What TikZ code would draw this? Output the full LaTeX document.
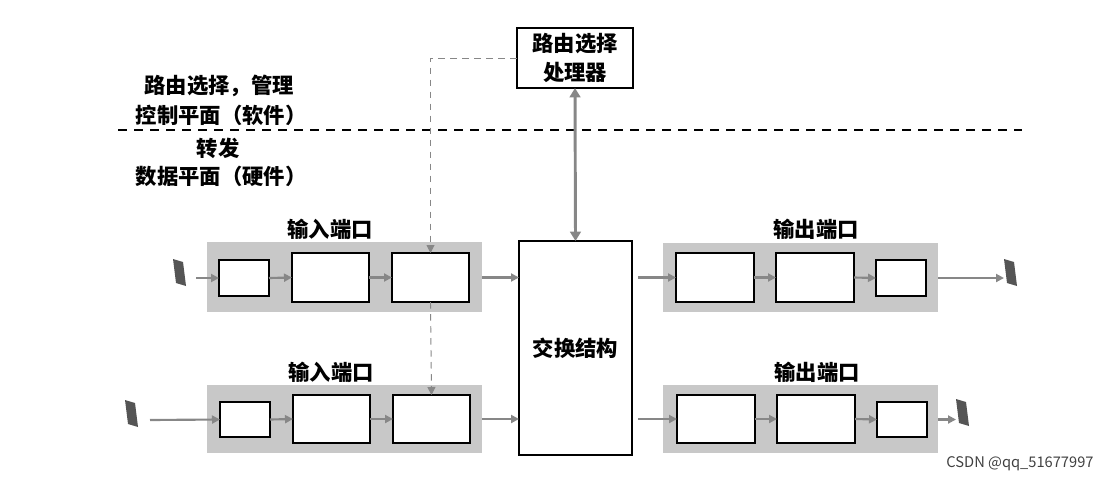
\documentclass[tikz,border=0pt]{standalone}
\usepackage{fontspec}
\newfontfamily\cjk{Noto Sans CJK SC}
\usetikzlibrary{arrows.meta}
\definecolor{bandgray}{RGB}{200,200,200}
\definecolor{arrowgray}{RGB}{135,135,135}
\definecolor{pktgray}{RGB}{85,85,85}
\newcommand\mybox[6]{\node[#6, minimum width={(#4-#2)*0.75pt}, minimum height={(#5-#3)*0.75pt}] (#1) at ({(#2+#4)/2},{(#3+#5)/2}) {};}
\newcommand\mypkt[3]{% name, x, y (top-left)
  \fill[pktgray] (#2,#3) -- ++(10,3) -- ++(3,24) -- ++(-10,-3) -- cycle;
  \coordinate (#1L) at (#2,{#3+13});
  \coordinate (#1R) at ({#2+13},{#3+14});}
\begin{document}
\begin{tikzpicture}[x=0.75pt,y=-0.75pt,
  font=\cjk\bfseries\fontsize{16}{20}\selectfont,
  box/.style={draw=black, line width=1.1pt, fill=white, inner sep=0pt, outer sep=0pt},
  band/.style={fill=bandgray, draw=none, inner sep=0pt, outer sep=0pt},
  flow/.style={draw=arrowgray, line width=1.6pt, -{Triangle[length=6pt,width=6pt]}},
  ctrl/.style={draw=arrowgray, line width=0.7pt, dash pattern=on 5pt off 4pt, -{Triangle[length=6pt,width=6pt]}},
  lbl/.style={inner sep=0pt}]
\useasboundingbox (0,0) rectangle (1120,482);
% plane separator
\coordinate (sepL) at (118,130);
\coordinate (sepR) at (1022,130);
\draw[line width=1pt, dash pattern=on 7pt off 5pt] (sepL) -- (sepR);
\node[lbl] (t1) at (219,86) {路由选择，管理};
\node[lbl] (t2) at (221,115) {控制平面（软件）};
\node[lbl] (t3) at (218,148) {转发};
\node[lbl] (t4) at (221,176) {数据平面（硬件）};
% routing processor
\node[box, align=center, minimum width={116*0.75pt}, minimum height={60*0.75pt}, inner sep=0pt, font=\cjk\bfseries\fontsize{16}{22}\selectfont] (proc) at (575,58) {路由选择\\处理器};
% switch fabric
\mybox{sw}{519}{241}{632}{455}{box}
\node[lbl] (swl) at (sw.center) {交换结构};
% input bands
\mybox{inA}{207}{242}{482}{312}{band}
\mybox{inB}{207}{385}{482}{453}{band}
\mybox{outA}{663}{243}{938}{312}{band}
\mybox{outB}{663}{385}{938}{453}{band}
\node[lbl] (inAl) at (330,229) {输入端口};
\node[lbl] (inBl) at (331,372) {输入端口};
\node[lbl] (outAl) at (816,229) {输出端口};
\node[lbl] (outBl) at (817,372) {输出端口};
% input boxes
\mybox{a1}{219}{260}{269}{296}{box}
\mybox{a2}{292}{253}{369}{302}{box}
\mybox{a3}{392}{253}{469}{302}{box}
\mybox{c1}{220}{402}{270}{437}{box}
\mybox{c2}{293}{395}{370}{443}{box}
\mybox{c3}{393}{395}{470}{443}{box}
% output boxes
\mybox{b1}{676}{253}{754}{302}{box}
\mybox{b2}{776}{253}{854}{302}{box}
\mybox{b3}{876}{260}{926}{296}{box}
\mybox{d1}{677}{395}{755}{443}{box}
\mybox{d2}{777}{395}{855}{443}{box}
\mybox{d3}{877}{402}{927}{437}{box}
% packets
\mypkt{pA}{173}{259}
\mypkt{pB}{125}{400}
\mypkt{pC}{1004}{259}
\mypkt{pD}{956}{399}
% input flows
\coordinate (pAs) at (196,278);
\coordinate (pBs) at (150,420);
\draw[flow] (pAs) -- (a1.west);
\draw[flow] (a1.east) -- (a2.west);
\draw[flow] (a2.east) -- (a3.west);
\draw[flow] (a3.east -| inA.east) -- (a3.east -| sw.west);
\draw[flow] (pBs) -- (c1.west);
\draw[flow] (c1.east) -- (c2.west);
\draw[flow] (c2.east) -- (c3.west);
\draw[flow] (c3.east -| inB.east) -- (c3.east -| sw.west);
% output flows
\draw[flow] ([xshift=4.5pt]b1.west -| sw.east) -- (b1.west);
\draw[flow] (b1.east) -- (b2.west);
\draw[flow] (b2.east) -- (b3.west);
\draw[flow] (b3.east -| outA.east) -- (b3.east -| pCL);
\draw[flow] ([xshift=4.5pt]d1.west -| sw.east) -- (d1.west);
\draw[flow] (d1.east) -- (d2.west);
\draw[flow] (d2.east) -- (d3.west);
\draw[flow] (d3.east -| outB.east) -- (d3.east -| pDL);
% processor <-> switch
\draw[draw=arrowgray, line width=2.2pt, {Triangle[length=7pt,width=8pt]}-{Triangle[length=7pt,width=8pt]}] (proc.south) -- (sw.north);
% control dashed
\draw[ctrl] (proc.west) -| (a3.north);
\draw[ctrl] (a3.south) -- (c3.north);
% watermark
\node[lbl, font=\cjk\fontsize{11}{13}\selectfont, text=black!75] (wm) at (1020,464) {CSDN @qq\_51677997};
\end{tikzpicture}
\end{document}
